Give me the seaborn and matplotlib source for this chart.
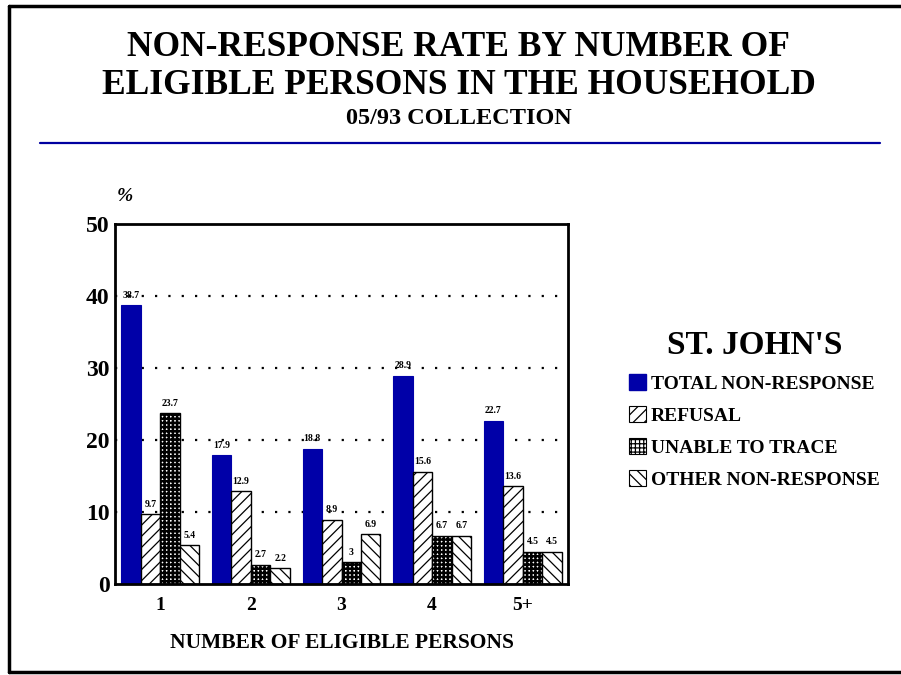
import matplotlib
matplotlib.use("Agg")
import matplotlib.pyplot as plt
from matplotlib.lines import Line2D
from matplotlib.patches import Patch
import seaborn as sns
import pandas as pd

categories = ["1", "2", "3", "4", "5+"]
series_names = ["TOTAL NON-RESPONSE", "REFUSAL", "UNABLE TO TRACE", "OTHER NON-RESPONSE"]
total_nonresponse = [38.7, 17.9, 18.8, 28.9, 22.7]
refusal = [9.7, 12.9, 8.9, 15.6, 13.6]
unable_to_trace = [23.7, 2.7, 3, 6.7, 4.5]
other_nonresponse = [5.4, 2.2, 6.9, 6.7, 4.5]
value_labels = [
    ["38.7", "17.9", "18.8", "28.9", "22.7"],
    ["9.7", "12.9", "8.9", "15.6", "13.6"],
    ["23.7", "2.7", "3", "6.7", "4.5"],
    ["5.4", "2.2", "6.9", "6.7", "4.5"],
]
y_ticks = [0, 10, 20, 30, 40, 50]

sns.set_theme(style="white")
plt.rcParams["font.family"] = ["Liberation Serif", "DejaVu Serif"]
plt.rcParams["hatch.linewidth"] = 0.9
plt.rcParams["text.color"] = "black"
plt.rcParams["axes.labelcolor"] = "black"
plt.rcParams["xtick.color"] = "black"
plt.rcParams["ytick.color"] = "black"

rows = []
for name, vals in zip(series_names, [total_nonresponse, refusal, unable_to_trace, other_nonresponse]):
    for c, v in zip(categories, vals):
        rows.append({"cat": c, "series": name, "value": v})
df = pd.DataFrame(rows)

fig = plt.figure(figsize=(9.01, 6.75), dpi=100)
ax = fig.add_axes([115 / 901, 1 - 584 / 675, (568 - 115) / 901, (584 - 224) / 675])

face_colors = ["#0000A8", "white", "white", "white"]
hatches = [None, "///", "++++", "\\\\\\"]
sns.barplot(data=df, x="cat", y="value", hue="series", order=categories,
            hue_order=series_names, palette=face_colors, width=0.86,
            ax=ax, legend=False, saturation=1)

for i, cont in enumerate(ax.containers):
    for bar in cont:
        if i == 0:
            bar.set_edgecolor("#0000A8")
            bar.set_linewidth(0.8)
        else:
            bar.set_edgecolor("black")
            bar.set_linewidth(1.0)
            bar.set_hatch(hatches[i])
            if i == 2 and hasattr(bar, "set_hatch_linewidth"):
                bar.set_hatch_linewidth(1.8)
    ax.bar_label(cont, labels=value_labels[i], padding=4, fontsize=7,
                 fontweight="bold", color="black")

ax.set_ylim(0, 50)
ax.set_xlim(-0.5, 4.5)
ax.set_yticks(y_ticks)
ax.set_yticklabels([str(t) for t in y_ticks], fontsize=17, fontweight="bold")
ax.set_xticklabels(categories, fontsize=14, fontweight="bold")
ax.tick_params(axis="y", length=0, pad=4)
ax.tick_params(axis="x", length=0, pad=9)
for t in [10, 20, 30, 40]:
    ax.axhline(t, color="black", linestyle=(0, (1, 5)), linewidth=1.6, zorder=0)
for s in ax.spines.values():
    s.set_visible(True)
    s.set_color("black")
    s.set_linewidth(2)
ax.set_xlabel("NUMBER OF ELIGIBLE PERSONS", fontsize=15.5, fontweight="bold", labelpad=14)
ax.set_ylabel("")
ax.grid(False)

fig.text(125 / 901, 1 - 197 / 675, "%", fontsize=14, fontweight="bold",
         fontstyle="italic", ha="center", va="center")

# titles
fig.text(0.509, 1 - 48 / 675, "NON-RESPONSE RATE BY NUMBER OF", fontsize=25.5,
         fontweight="bold", ha="center", va="center")
fig.text(0.509, 1 - 85 / 675, "ELIGIBLE PERSONS IN THE HOUSEHOLD", fontsize=25.5,
         fontweight="bold", ha="center", va="center")
fig.text(0.509, 1 - 118 / 675, "05/93 COLLECTION", fontsize=17.5,
         fontweight="bold", ha="center", va="center")
fig.add_artist(Line2D([40 / 901, 880 / 901], [1 - 143 / 675] * 2, color="#0000A0", lw=1.6))

# frame
fig.add_artist(Line2D([9 / 901, 1.0], [1 - 6 / 675] * 2, color="black", lw=2.5))
fig.add_artist(Line2D([9 / 901, 1.0], [1 - 672 / 675] * 2, color="black", lw=2.5))
fig.add_artist(Line2D([9 / 901] * 2, [1 - 6 / 675, 1 - 672 / 675], color="black", lw=2.5))

# legend
handles = []
for i in range(4):
    if i == 0:
        handles.append(Patch(facecolor="#0000A8", edgecolor="#0000A8"))
    else:
        h = Patch(facecolor="white", edgecolor="black", hatch=hatches[i], linewidth=0.8)
        handles.append(h)
leg = fig.legend(handles, series_names, loc="upper left",
                 bbox_to_anchor=(621 / 901, 1 - 322 / 675), frameon=False,
                 title="ST. JOHN'S", title_fontproperties={"size": 24, "weight": "bold"},
                 prop={"size": 14, "weight": "bold"}, handlelength=0.9,
                 handleheight=0.9, handletextpad=0.25, labelspacing=0.68,
                 borderaxespad=0)
leg._legend_box.align = "center"
for t in leg.get_texts():
    t.set_color("black")
leg.get_title().set_color("black")

fig.savefig("out.png", dpi=100)
